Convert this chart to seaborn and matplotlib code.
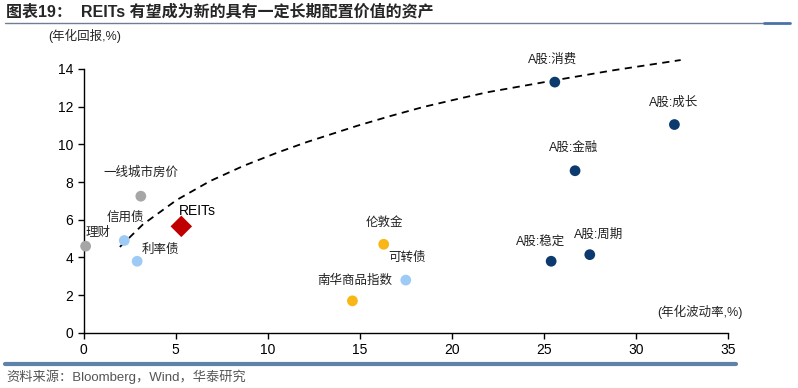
import matplotlib
matplotlib.use("Agg")
import matplotlib.pyplot as plt
import seaborn as sns
import pandas as pd

# ---- Datos ----
ACTIVOS = ["理财", "一线城市房价", "信用债", "利率债", "REITs", "南华商品指数",
           "伦敦金", "可转债", "A股:消费", "A股:成长", "A股:金融", "A股:稳定", "A股:周期"]
VOLATILIDAD = [0.1, 3.1, 2.2, 2.9, 5.3, 14.6, 16.3, 17.5, 25.6, 32.1, 26.7, 25.4, 27.5]
RETORNO = [4.6, 7.25, 4.9, 3.8, 5.65, 1.7, 4.7, 2.8, 13.3, 11.05, 8.6, 3.8, 4.15]
GRUPO = ["otros", "otros", "bonos", "bonos", "reits", "materias", "materias", "bonos",
         "acciones", "acciones", "acciones", "acciones", "acciones"]

# frontera (línea discontinua) leída punto a punto
FRONTERA_X = [1.96, 3.21, 5.05, 6.86, 8.66, 10.49, 12.12, 14.85, 16.66, 18.45,
              20.29, 21.92, 25.73, 28.80, 32.44]
FRONTERA_Y = [4.56, 5.75, 7.05, 8.05, 8.85, 9.55, 10.12, 10.98, 11.50, 11.98,
              12.40, 12.76, 13.42, 13.93, 14.47]

COLORES = {"otros": "#a6a6a6", "bonos": "#9dcbf5", "reits": "#c00000",
           "materias": "#f8b617", "acciones": "#0c3a6e"}

# posición de las etiquetas (centro del texto, en datos)
ETIQUETAS_POS = {
    "理财": (0.75, 5.3), "一线城市房价": (3.1, 8.5), "信用债": (2.25, 6.1),
    "利率债": (4.15, 4.4), "REITs": (6.15, 6.45), "南华商品指数": (14.7, 2.75),
    "伦敦金": (16.35, 5.85), "可转债": (17.55, 4.0), "A股:消费": (25.5, 14.5),
    "A股:成长": (32.05, 12.2), "A股:金融": (26.6, 9.8), "A股:稳定": (24.8, 4.85),
    "A股:周期": (28.0, 5.2),
}

df = pd.DataFrame({"activo": ACTIVOS, "vol": VOLATILIDAD, "ret": RETORNO, "grupo": GRUPO})

sns.set_style("white")
plt.rcParams["font.family"] = ["Liberation Sans", "Noto Sans CJK SC", "DejaVu Sans"]
plt.rcParams["axes.unicode_minus"] = False

fig = plt.figure(figsize=(7.98, 3.88), dpi=100)
ax = fig.add_axes([0.105, 0.142, 0.807, 0.729])

sns.lineplot(x=FRONTERA_X, y=FRONTERA_Y, ax=ax, color="black", linestyle=(0, (4, 3)),
             linewidth=1.3, sort=False, estimator=None)

puntos = df[df.grupo != "reits"]
sns.scatterplot(data=puntos, x="vol", y="ret", hue="grupo", palette=COLORES, s=60,
                edgecolor="none", legend=False, ax=ax, zorder=3, clip_on=False)
sns.scatterplot(data=df[df.grupo == "reits"], x="vol", y="ret", color=COLORES["reits"],
                marker="D", s=120, edgecolor="none", legend=False, ax=ax, zorder=3)

for nombre, (tx, ty) in ETIQUETAS_POS.items():
    if nombre == "REITs":
        ax.text(tx, ty, nombre, ha="center", va="center", fontsize=10, color="black")
    else:
        ax.text(tx, ty, nombre, ha="center", va="center", fontsize=9, color="#222222")

ax.set_xlim(0, 35)
ax.set_ylim(0, 15)
ax.set_xticks(range(0, 36, 5))
ax.set_yticks(range(0, 15, 2))
ax.spines["left"].set_bounds(0, 14)
ax.spines["top"].set_visible(False)
ax.spines["right"].set_visible(False)
for s in ["left", "bottom"]:
    ax.spines[s].set_color("black")
    ax.spines[s].set_linewidth(1.0)
ax.tick_params(axis="both", direction="out", length=4, width=1, labelsize=10,
               colors="black", bottom=True, left=True)
ax.set_xlabel("")
ax.set_ylabel("")

ax.text(-1.95, 15.75, "(年化回报,%)", fontsize=9, ha="left", va="center")
ax.text(35.8, 1.13, "(年化波动率,%)", fontsize=9, ha="right", va="center")

# ---- Título, líneas y fuente ----
fig.text(0.008, 0.969, "图表19：  REITs 有望成为新的具有一定长期配置价值的资产",
         fontsize=11.5, fontweight="bold", ha="left", va="center")
fig.add_artist(plt.Line2D([0.006, 0.958], [0.942, 0.942], color="#6e7f95", linewidth=1.0))
fig.add_artist(plt.Line2D([0.958, 0.99], [0.942, 0.942], color="#4a72a8", linewidth=2.0))
fig.add_artist(plt.Line2D([0.006, 0.922], [0.062, 0.062], color="#5e82a8", linewidth=3.0))
fig.text(0.008, 0.028, "资料来源：Bloomberg，Wind，华泰研究", fontsize=9.5,
         color="#555555", ha="left", va="center")

fig.savefig("out.png", dpi=100)
